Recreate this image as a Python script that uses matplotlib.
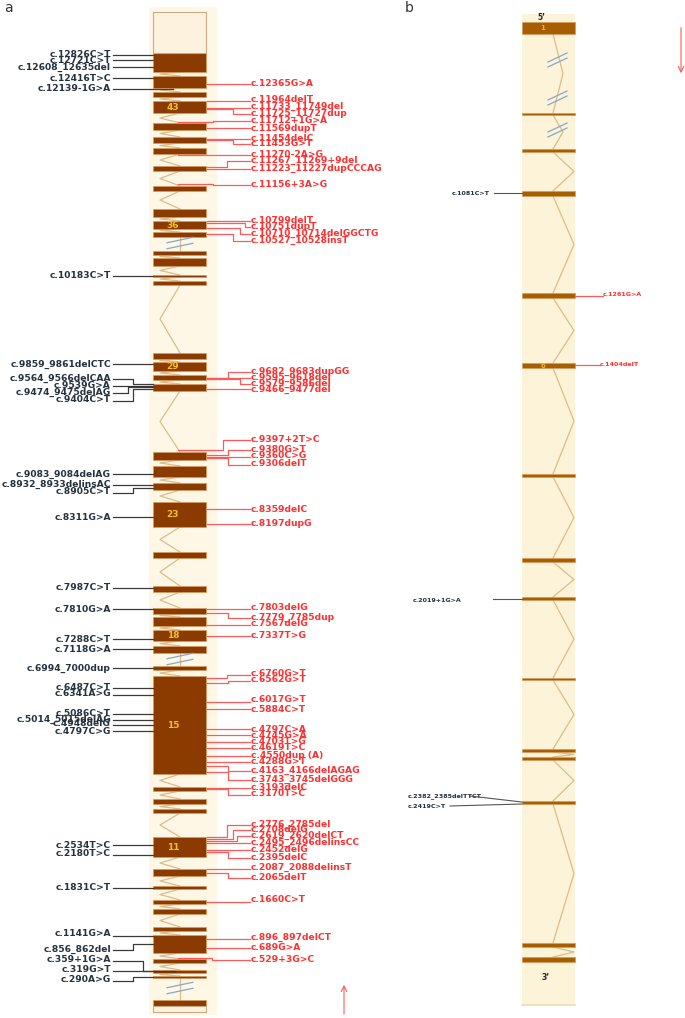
import matplotlib
matplotlib.use('agg')
import matplotlib.pyplot as plt
from matplotlib.patches import Rectangle

########################################################################
# data -----------------------------------------------------------------
########################################################################
# panel a : exon (top, bottom) along the track, 3' end at top
exons_a = [(53, 72), (76, 88), (92, 97), (101, 113), (123, 130), (137, 143),
           (148, 154), (166, 171), (186, 191), (209, 217), (221, 229), (232, 237),
           (251, 255), (258, 266), (275, 277), (281, 285), (353, 359), (362, 371),
           (375, 380), (384, 391), (452, 460), (466, 477), (483, 490), (502, 527),
           (552, 558), (586, 592), (608, 614), (617, 626), (630, 641), (646, 653),
           (666, 670), (676, 774), (787, 791), (799, 804), (809, 813), (837, 857),
           (869, 876), (886, 889), (900, 904), (909, 914), (927, 931), (935, 953),
           (959, 963), (970, 973), (976, 978), (1000, 1006)]
utr_a = [(12, 53), (1006, 1012)]
exon_no_a = ['43', '36', '29', '23', '18', '15', '11']
exon_no_idx_a = [3, 10, 17, 23, 28, 31, 35]
breaks_a = [243, 659, 988]

# left (black) variants: label, text pos, exon pos, elbow, end
left_lab_a = ['c.12826C>T', 'c.12721C>T', 'c.12608_12635del', 'c.12416T>C', 'c.12139-1G>A',
              'c.10183C>T', 'c.9859_9861delCTC', 'c.9564_9566delCAA', 'c.9539G>A',
              'c.9474_9475delAG', 'c.9404C>T', 'c.9083_9084delAG', 'c.8932_8933delinsAC',
              'c.8905C>T', 'c.8311G>A', 'c.7987C>T', 'c.7810G>A', 'c.7288C>T', 'c.7118G>A',
              'c.6994_7000dup', 'c.6487C>T', 'c.6341A>G', 'c.5086C>T', 'c.5014_5015delAG',
              'c.4948delG', 'c.4797C>G', 'c.2534T>C', 'c.2180T>C', 'c.1831C>T', 'c.1141G>A',
              'c.856_862del', 'c.359+1G>A', 'c.319G>T', 'c.290A>G']
left_txt_a = [54, 60, 67, 78, 88, 276, 364, 378, 385, 392, 400, 474, 484, 492, 517, 588,
              609, 639, 649, 668, 687, 694, 713, 719, 724, 731, 845, 854, 887, 933, 949,
              960, 970, 980]
left_pos_a = [55, 60, 67, 78, 89, 276, 364, 384, 386, 387, 389, 474, 485, 488, 517, 588,
              609, 639, 649, 668, 688, 695, 714, 720, 725, 731, 845, 855, 888, 936, 944,
              971, 971, 977]
left_elb_a = {7: 133, 9: 128, 10: 133, 13: 133, 30: 133, 31: 143, 33: 133}
left_end_a = {4: 173, 31: 175}

# right (red) variants
right_lab_a = ['c.12365G>A', 'c.11964delT', 'c.11733_11749del', 'c.11725_11727dup',
               'c.11712+1G>A', 'c.11569dupT', 'c.11454delC', 'c.11453G>T', 'c.11270-2A>G',
               'c.11267_11269+9del', 'c.11223_11227dupCCCAG', 'c.11156+3A>G', 'c.10799delT',
               'c.10751dupT', 'c.10710_10714delGGCTG', 'c.10527_10528insT',
               'c.9682_9683dupGG', 'c.9595_9618del', 'c.9579_9586del', 'c.9466_9477del',
               'c.9397+2T>C', 'c.9380G>T', 'c.9360C>G', 'c.9306delT', 'c.8359delC',
               'c.8197dupG', 'c.7803delG', 'c.7779_7785dup', 'c.7567delG', 'c.7337T>G',
               'c.6760G>T', 'c.6562G>T', 'c.6017G>T', 'c.5884C>T', 'c.4797C>A', 'c.4745G>A',
               'c.4703T>G', 'c.4619T>C', 'c.4550dup (A)', 'c.4288G>T', 'c.4163_4166delAGAG',
               'c.3743_3745delGGG', 'c.3193delC', 'c.3170T>C', 'c.2776_2785del', 'c.2708delG',
               'c.2619_2620delCT', 'c.2495_2496delinsCC', 'c.2452delG', 'c.2395delC',
               'c.2087_2088delinsT', 'c.2065delT', 'c.1660C>T', 'c.896_897delCT', 'c.689G>A',
               'c.529+3G>C']
right_txt_a = [83, 99, 106, 113, 120, 128, 138, 143, 154, 160, 168, 184, 220, 226, 233, 240,
               371, 377, 383, 389, 439, 449, 455, 464, 509, 524, 608, 617, 624, 636, 674, 680,
               700, 709, 729, 736, 741, 748, 755, 762, 770, 779, 787, 794, 824, 829, 835, 842,
               850, 857, 867, 877, 900, 937, 947, 959]
right_pos_a = [84, 101, 108, 109, 122, 128, 139, 140, 155, 167, 169, 184, 221, 223, 228, 234,
               378, 378, 379, 389, 450, 455, 457, 458, 509, 524, 609, 613, 625, 636, 678, 683,
               702, 709, 729, 735, 742, 748, 756, 762, 766, 772, 788, 789, 837, 839, 841, 843,
               850, 852, 869, 873, 902, 939, 948, 958]
right_elb_a = {3: 233, 4: 213, 7: 233, 8: 213, 9: 227, 11: 213, 13: 245, 14: 240, 15: 233,
               16: 228, 18: 240, 20: 223, 21: 228, 23: 228, 27: 228, 30: 227, 31: 228,
               40: 228, 41: 228, 43: 228, 44: 227, 45: 233, 46: 237, 49: 228, 51: 228,
               55: 212}
right_intronic_a = [4, 8, 11, 20, 55]

# panel b : exons, 5' end at top
exons_b = [(22, 34), (113, 115), (149, 152), (191, 196), (293, 298), (363, 368), (474, 477),
           (558, 562), (597, 600), (678, 680), (749, 752), (757, 760), (801, 804),
           (943, 947), (957, 962)]
exon_no_b = ['1', '6']
exon_no_idx_b = [0, 5]
breaks_b = [60, 98, 130]
left_lab_b = ['c.1081C>T', 'c.2019+1G>A', 'c.2382_2385delTTCT', 'c.2419C>T']
left_txt_b = [193, 600, 796, 806]
left_pos_b = [193, 599, 802, 804]
right_lab_b = ['c.1261G>A', 'c.1404delT']
right_pos_b = [296, 365]

########################################################################
# drawing --------------------------------------------------------------
########################################################################
BLK = '#24313f'; BLK_L = '#3a3a3a'
RED = '#ff3030'; RED_L = '#ff5a5a'
TAN = '#dcbb8c'
FS = 6.6

fig = plt.figure(figsize=(6.85, 10.18), dpi=100)
ax = fig.add_axes([0, 0, 1, 1])
ax.set_xlim(0, 685); ax.set_ylim(1018, 0); ax.axis('off')

def gene(ax, x0, x1, exons, fill, cx, px, breaks, small_px=None):
    for i in range(len(exons) - 1):
        b, t = exons[i][1], exons[i + 1][0]
        has_brk = any(b < y < t for y in breaks)
        if has_brk and small_px is None:
            ax.plot([cx, cx], [b, t], color=TAN, lw=0.9, zorder=2)
        else:
            p = small_px if has_brk else px
            ax.plot([cx, p, cx], [b, (b + t) / 2, t], color=TAN, lw=0.9, zorder=2)
    for t, b in exons:
        ax.add_patch(Rectangle((x0, t), x1 - x0, b - t, facecolor=fill,
                               edgecolor='#d89a60', lw=0.5, zorder=3))

def brk(ax, xa, xb, y, dy, sep):
    for s in (-sep / 2, sep / 2):
        ax.plot([xa, xb], [y + s + dy / 2, y + s - dy / 2], color='#86a8c8', lw=0.9, zorder=4)

# ---- panel a
ax.add_patch(Rectangle((149, 7), 68, 1008, facecolor='#fff7e6', edgecolor='none', zorder=0))
gene(ax, 153, 206, exons_a, '#8b3a00', 180, 160, breaks_a)
for t, b in utr_a:
    ax.add_patch(Rectangle((153, t), 53, b - t, facecolor='#fdf2de',
                           edgecolor='#c9a884', lw=0.8, zorder=3))
for y in breaks_a:
    brk(ax, 167, 193, y, 5.5, 6)
for n, i in zip(exon_no_a, exon_no_idx_a):
    ax.text(173, sum(exons_a[i]) / 2, n, color='#f2c21b', fontsize=6.5, fontweight='bold',
            ha='center', va='center', zorder=5)

for i, lab in enumerate(left_lab_a):
    ty, py = left_txt_a[i], left_pos_a[i]
    x_end = left_end_a.get(i, 153)
    if i in left_elb_a:
        ex = left_elb_a[i]
        ax.plot([113, ex, ex, x_end], [ty + 0.5, ty + 0.5, py, py], color=BLK_L, lw=0.9, zorder=4)
    else:
        ax.plot([113, x_end], [py, py], color=BLK_L, lw=0.9, zorder=4)
    ax.text(111, ty, lab, color=BLK, fontsize=FS, fontweight='bold', ha='right', va='center')

for i, lab in enumerate(right_lab_a):
    ty, py = right_txt_a[i], right_pos_a[i]
    x0 = 178 if i in right_intronic_a else 207
    if i in right_elb_a:
        ex = right_elb_a[i]
        ax.plot([x0, ex, ex, 250], [py, py, ty + 0.5, ty + 0.5], color=RED_L, lw=0.9, zorder=4)
    else:
        ax.plot([x0, 250], [py, py], color=RED_L, lw=0.9, zorder=4)
    ax.text(251, ty, lab, color=RED, fontsize=FS, fontweight='bold', ha='left', va='center')

ax.annotate('', xy=(344, 982), xytext=(344, 1017),
            arrowprops=dict(arrowstyle='->', color=RED_L, lw=0.8))
ax.text(4, 8, 'a', fontsize=10, color='#333333', va='center')

# ---- panel b
ax.add_patch(Rectangle((522, 14), 53, 991, facecolor='#fdf3d8', edgecolor='none', zorder=0))
ax.plot([522, 575], [1005, 1005], color='#ecdcb8', lw=1.2, zorder=1)
gene(ax, 522, 575, exons_b, '#a65e00', 553, 574, breaks_b, small_px=563)
for y in breaks_b:
    brk(ax, 548, 567, y, 9, 5)
for n, i in zip(exon_no_b, exon_no_idx_b):
    ax.text(543, sum(exons_b[i]) / 2, n, color='#f2b21b', fontsize=5, fontweight='bold',
            ha='center', va='center', zorder=5)
ax.text(541, 17, "5\u2019", fontsize=5.5, fontweight='bold', color='#222222', ha='center', va='center')
ax.text(546, 978, "3\u2019", fontsize=5.5, fontweight='bold', color='#222222', ha='center', va='center')

lb_x = [452, 413, 408, 408]
lb_line = [494, 493, 470, 450]
for i, lab in enumerate(left_lab_b):
    ax.text(lb_x[i], left_txt_b[i], lab, fontsize=4.6, fontweight='bold', color=BLK,
            ha='left', va='center')
    ax.plot([lb_line[i], 522], [left_txt_b[i] if i > 1 else left_pos_b[i], left_pos_b[i]],
            color='#555555', lw=0.8, zorder=4)
rb_x = [603, 600]
for i, lab in enumerate(right_lab_b):
    ax.plot([575, rb_x[i]], [right_pos_b[i], right_pos_b[i]], color=RED_L, lw=0.9, zorder=4)
    ax.text(rb_x[i], right_pos_b[i] - 1, lab, fontsize=4.6, fontweight='bold', color=RED,
            ha='left', va='center')

ax.annotate('', xy=(681, 76), xytext=(681, 25),
            arrowprops=dict(arrowstyle='->', color=RED_L, lw=0.8))
ax.text(405, 8, 'b', fontsize=10, color='#333333', va='center')

fig.savefig('out.png', dpi=100)
